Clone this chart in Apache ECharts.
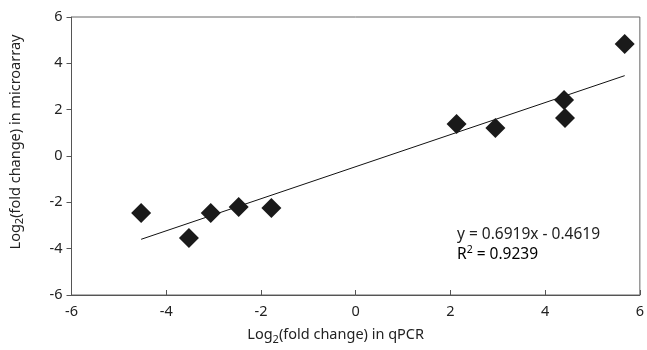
<!DOCTYPE html>
<html>
<head>
<meta charset="utf-8">
<script src="https://cdn.jsdelivr.net/npm/echarts@6/dist/echarts.min.js"></script>
<style>html,body{margin:0;padding:0;background:#fff;}#c{width:647px;height:350px;}</style>
</head>
<body>
<div id="c"></div>
<script>
var qpcr = [-4.53, -3.52, -3.06, -2.47, -1.78, 2.13, 2.95, 4.40, 4.42, 5.68];
var microarray = [-2.46, -3.54, -2.46, -2.20, -2.24, 1.38, 1.21, 2.42, 1.64, 4.83];
var slope = 0.6919, intercept = -0.4619;
var trendX = [-4.53, 5.68];
var axisTicks = [-6, -4, -2, 0, 2, 4, 6];

var pts = qpcr.map(function (x, i) { return [x, microarray[i]]; });
var trend = trendX.map(function (x) { return [x, slope * x + intercept]; });
var font = 'Noto Sans';
var fs = 14.5;
var chart = echarts.init(document.getElementById('c'));
chart.setOption({
  animation: false,
  grid: { left: 70, right: 6, top: 17, bottom: 55, show: true, borderColor: '#666', borderWidth: 1, backgroundColor: 'transparent' },
  xAxis: {
    type: 'value', min: -6, max: 6, interval: 2,
    axisLine: { onZero: false, lineStyle: { color: '#555' } },
    axisTick: { inside: true, length: 5, lineStyle: { color: '#555' } },
    splitLine: { show: false },
    axisLabel: { color: '#222', fontFamily: font, fontSize: fs, margin: 9 },
    name: '{n|Log}{s|2}{n|(fold change) in qPCR}', nameLocation: 'middle', nameGap: 30,
    nameTextStyle: { padding: [0, 40, 0, 0], rich: { n: { fontFamily: font, fontSize: fs, color: '#222' }, s: { fontFamily: font, fontSize: 11, color: '#222', padding: [9, 0, 0, 0] } } }
  },
  yAxis: {
    type: 'value', min: -6, max: 6, interval: 2,
    axisLine: { show: true, onZero: false, lineStyle: { color: '#555' } },
    axisTick: { show: true, inside: false, length: 5, lineStyle: { color: '#555' } },
    splitLine: { show: false },
    axisLabel: { color: '#222', fontFamily: font, fontSize: fs, margin: 9 },
    name: '{n|Log}{s|2}{n|(fold change) in microarray}', nameLocation: 'middle', nameGap: 46,
    nameTextStyle: { padding: [0, 0, 0, 28], rich: { n: { fontFamily: font, fontSize: fs, color: '#222' }, s: { fontFamily: font, fontSize: 11, color: '#222', padding: [9, 0, 0, 0] } } }
  },
  graphic: [
    { type: 'text', left: 457, top: 227, style: { text: 'y = 0.6919x - 0.4619', fontFamily: font, fontSize: 15.5, fill: '#222' } },
    { type: 'text', left: 457, top: 245, style: { text: '{n|R}{p|2}{n| = 0.9239}', rich: { n: { fontFamily: font, fontSize: 15.5, color: '#222' }, p: { fontFamily: font, fontSize: 10.5, color: '#222', padding: [0, 0, 8, 0] } } } }
  ],
  series: [
    { type: 'line', data: trend, showSymbol: false, symbol: 'none', lineStyle: { color: '#111', width: 1 }, z: 1 },
    { type: 'scatter', data: pts, symbol: 'diamond', symbolSize: 20, itemStyle: { color: '#1a1a1a', opacity: 1 }, z: 2 }
  ]
});
</script>
</body>
</html>
